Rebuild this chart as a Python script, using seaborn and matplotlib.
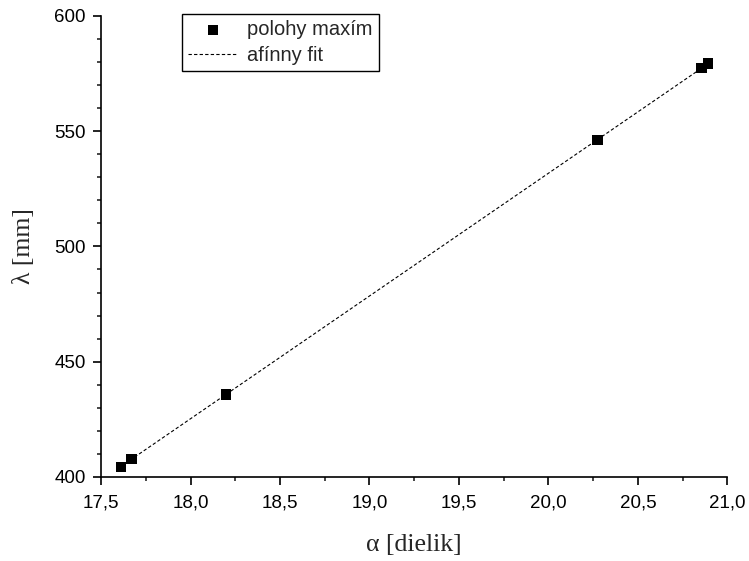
import numpy as np
import pandas as pd
import matplotlib
matplotlib.use("Agg")
import matplotlib.pyplot as plt
import seaborn as sns
from matplotlib.ticker import MultipleLocator, FuncFormatter

alpha = [17.61, 17.67, 18.20, 20.275, 20.856, 20.893]
lam = [404.4, 407.8, 435.8, 546.3, 577.3, 579.4]
x_ticks = [17.5, 18.0, 18.5, 19.0, 19.5, 20.0, 20.5, 21.0]
y_ticks = [400, 450, 500, 550, 600]

sns.set_theme(style="ticks")
plt.rcParams['font.family'] = ['Liberation Sans', 'DejaVu Sans']

df = pd.DataFrame({"alpha": alpha, "lam": lam})
k, q = np.polyfit(alpha, lam, 1)
xf = np.array([min(alpha), max(alpha)])
fit = pd.DataFrame({"alpha": xf, "lam": k * xf + q})

fig = plt.figure(figsize=(7.49, 5.61), dpi=100)
ax = fig.add_axes([0.135, 0.150, 0.836, 0.8215])

sns.lineplot(data=fit, x="alpha", y="lam", ax=ax, color="black", lw=0.8,
             linestyle=(0, (3, 2)), label="afínny fit", zorder=2)
sns.scatterplot(data=df, x="alpha", y="lam", ax=ax, marker="s", s=55,
                color="black", edgecolor="none", label="polohy maxím", zorder=3)

ax.set_xlim(17.5, 21.0)
ax.set_ylim(400, 600)
ax.set_xticks(x_ticks)
ax.set_yticks(y_ticks)
ax.xaxis.set_minor_locator(MultipleLocator(0.25))
ax.yaxis.set_minor_locator(MultipleLocator(10))
ax.xaxis.set_major_formatter(FuncFormatter(lambda v, p: f"{v:.1f}".replace(".", ",")))
ax.yaxis.set_major_formatter(FuncFormatter(lambda v, p: f"{v:.0f}"))
ax.tick_params(axis="x", which="major", direction="out", length=6, width=1.2,
               labelsize=13.5, colors="black", pad=7)
ax.tick_params(axis="y", which="major", direction="out", length=6, width=1.2,
               labelsize=13.5, colors="black", pad=5)
ax.tick_params(axis="both", which="minor", direction="out", length=3, width=1.2)
for s in ["left", "bottom"]:
    ax.spines[s].set_linewidth(1.2)
    ax.spines[s].set_color("black")
ax.spines["top"].set_visible(False)
ax.spines["right"].set_visible(False)

ax.set_xlabel("α [dielik]", fontsize=18.5, family=["Liberation Serif", "DejaVu Serif"], labelpad=16)
ax.set_ylabel("λ [mm]", fontsize=18.5, family=["Liberation Serif", "DejaVu Serif"], labelpad=14)

h, l = ax.get_legend_handles_labels()
order = [l.index("polohy maxím"), l.index("afínny fit")]
leg = ax.legend([h[i] for i in order], [l[i] for i in order], loc="upper left",
                bbox_to_anchor=(0.129, 1.004), fontsize=14.5, frameon=True,
                fancybox=False, edgecolor="black", framealpha=1,
                handlelength=2.5, handletextpad=0.45, borderpad=0.3,
                labelspacing=0.35, borderaxespad=0)
leg.get_frame().set_linewidth(1.0)

fig.savefig("out.png", dpi=100)
